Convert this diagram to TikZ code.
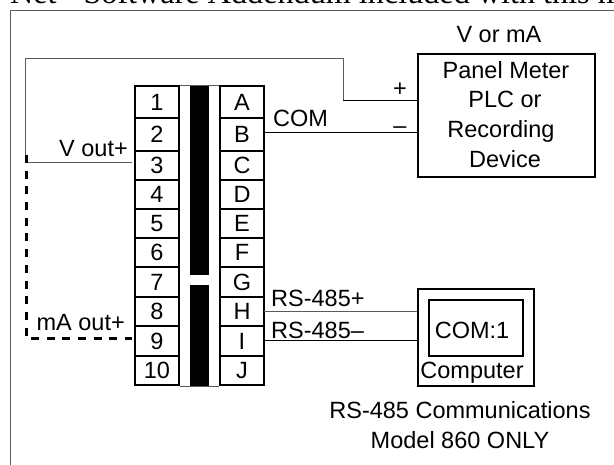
\documentclass[tikz,border=0pt]{standalone}
\usepackage{fontspec}
\setmainfont{Liberation Sans}
\newfontfamily\titlefont{Liberation Serif}
\usetikzlibrary{positioning}
\definecolor{framegray}{RGB}{90,90,90}
\tikzset{
  terminal/.style={rectangle, draw, line width=1.6pt, minimum width=44pt, minimum height=29.5pt, inner sep=0pt, font=\fontsize{23.5}{28}\selectfont},
  device/.style={rectangle, draw, line width=2pt, inner sep=0pt},
  label/.style={inner sep=0pt, font=\fontsize{23.5}{28}\selectfont},
  wire/.style={line width=1pt},
  grayline/.style={line width=1pt, draw=framegray},
  current/.style={line width=3pt, dash pattern=on 8pt off 7.7pt},
  bar/.style={fill=black, draw=none, minimum width=19pt, inner sep=0pt}
}

\begin{document}
\begin{tikzpicture}[x=1pt, y=-1pt]
\useasboundingbox (0,0) rectangle (614,465);

% page text and frame
\begin{scope}
\clip (0,0) rectangle (614,465);
\node[anchor=base west, inner sep=0pt, font=\titlefont\fontsize{32.2}{36}\selectfont] (heading) at (10,3.5) {Net - Software Addendum included with this manual};
\end{scope}
\coordinate (frame_bottom) at (10,465);
\coordinate (frame_corner) at (10,11);
\coordinate (frame_right) at (614,11);
\draw[grayline] (frame_bottom) -- (frame_corner) -- (frame_right);

% terminal block
\node[terminal, minimum height=32pt] (t1) at (157,102) {\raisebox{-4pt}{1}};
\node[terminal, minimum height=33pt] (t2) at (157,134.5) {2};
\node[terminal] (t3) at (157,165.5) {3};
\node[terminal] (t4) at (157,194.5) {4};
\node[terminal] (t5) at (157,223.5) {5};
\node[terminal] (t6) at (157,252.5) {6};
\node[terminal] (t7) at (157,282) {7};
\node[terminal] (t8) at (157,311.5) {8};
\node[terminal] (t9) at (157,341) {9};
\node[terminal] (t10) at (157,370.5) {10};
\node[terminal, minimum height=32pt] (ta) at (242,102) {\raisebox{-4pt}{A}};
\node[terminal, minimum height=33pt] (tb) at (242,134.5) {B};
\node[terminal] (tc) at (242,165.5) {C};
\node[terminal] (td) at (242,194.5) {D};
\node[terminal] (te) at (242,223.5) {E};
\node[terminal] (tf) at (242,252.5) {F};
\node[terminal] (tg) at (242,282) {G};
\node[terminal] (th) at (242,311.5) {H};
\node[terminal] (ti) at (242,341) {I};
\node[terminal] (tj) at (242,370.5) {J};

\node[bar, minimum height=189pt] (bar_top) at (199.5,180.5) {};
\node[bar, minimum height=101pt] (bar_bottom) at (199.5,335.5) {};
\draw[grayline] (t1.north east) -- (ta.north west);
\draw[grayline] (t10.south east) -- (tj.south west);

% devices
\node[device, minimum width=177pt, minimum height=123pt] (meter) at (506.5,115.5) {};
\node[label, anchor=base, align=center, font=\fontsize{23.5}{29.5}\selectfont] (meter_line1) at (506,79) {Panel Meter};
\node[label, anchor=base] (meter_line2) at (505,108) {PLC or};
\node[label, anchor=base] (meter_line3) at (501,138) {Recording};
\node[label, anchor=base] (meter_line4) at (505,168) {Device};
\node[label, anchor=base] (meter_type) at (499,43) {V or mA};
\node[device, minimum width=116pt, minimum height=97pt] (computer) at (476,337.5) {};
\node[device, line width=2.5pt, minimum width=94pt, minimum height=56pt] (com_port) at (476,328) {};
\node[label, anchor=base] (com_text) at (472,339) {COM:1};
\node[label, anchor=base] (computer_name) at (472,379) {Computer};
\node[label, align=center, font=\fontsize{23.5}{30}\selectfont] (rs_note) at (460,425) {RS-485 Communications\\Model 860 ONLY};

% wiring
\coordinate (junction) at (25,163);
\coordinate (top_left) at (25,59);
\coordinate (top_right) at (343,59);
\coordinate (plus_bend) at (343,101);
\coordinate (plus_end) at (meter.west |- plus_bend);
\coordinate (v_end) at (132,163);
\coordinate (b_start) at (264,133);
\coordinate (b_end) at (meter.west |- b_start);
\coordinate (h_start) at (264,312);
\coordinate (h_end) at (computer.west |- h_start);
\coordinate (i_start) at (264,341);
\coordinate (i_end) at (computer.west |- i_start);
\coordinate (dash_top) at (26.5,155);
\coordinate (dash_corner) at (26.5,339);
\coordinate (dash_end) at (132,339);

\draw[grayline] (junction) -- (top_left) -- (top_right) -- (plus_bend);
\draw[wire] (plus_bend) -- (plus_end);
\draw[grayline] (junction) -- (v_end);
\draw[wire] (b_start) -- (b_end);
\draw[grayline] (h_start) -- (h_end);
\draw[wire] (i_start) -- (i_end);
\draw[current] (dash_top) -- (dash_corner) -- (dash_end);

% wire labels
\node[label, anchor=base east] (v_out) at (128,157) {V out+};
\node[label, anchor=base east] (ma_out) at (125,331) {mA out+};
\node[label, anchor=base west] (com_wire) at (273,127) {COM};
\node[label, anchor=base] (plus_sign) at (400,97) {+};
\node[label, anchor=base] (minus_sign) at (400,134) {--};
\node[label, anchor=base west] (rs_plus) at (271,307) {RS-485+};
\node[label, anchor=base west] (rs_minus) at (271,339) {RS-485--};

\end{tikzpicture}
\end{document}
